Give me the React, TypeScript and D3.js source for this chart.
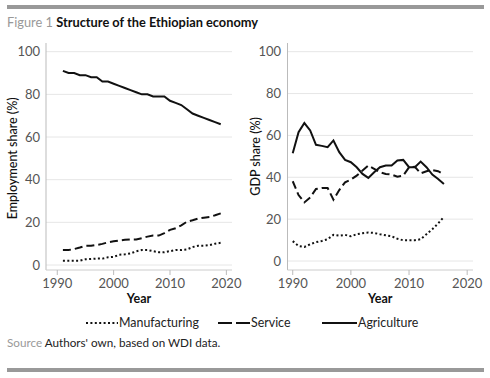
import React from "react";
import * as d3 from "d3";

const empYears = d3.range(1991, 2020);
const empAgriculture = [91, 90, 90, 89, 89, 88, 88, 86, 86, 85, 84, 83, 82, 81, 80, 80, 79, 79, 79, 77, 76, 75, 73, 71, 70, 69, 68, 67, 66];
const empService = [7, 7, 7.5, 8.2, 9, 9, 9.4, 9.9, 10.6, 11.1, 11.5, 11.8, 12, 12, 12.6, 13.3, 13.8, 13.8, 14.9, 16.5, 17.2, 18.6, 20.3, 21, 21.8, 22.2, 22.5, 23.3, 24.2];
const empManufacturing = [2, 2, 2, 2, 2.7, 2.8, 3, 3, 3.6, 3.8, 4.8, 5, 5.4, 6.4, 7, 7, 6.5, 6, 6, 6.5, 7, 7, 7.3, 8.4, 9, 9, 9.3, 10, 10.4];

const gdpYears = d3.range(1990, 2017);
const gdpAgriculture = [51.5, 61.5, 65.9, 62.4, 55.5, 55, 54.4, 57.6, 52, 48.3, 47.2, 44.8, 41.6, 39.7, 42.4, 44.8, 45.6, 45.6, 48, 48.3, 44.8, 44.8, 47.5, 44.8, 41.3, 39.2, 36.8];
const gdpService = [38.1, 31.5, 28, 30.4, 34.4, 34.9, 34.9, 29.3, 33.9, 37.6, 38.9, 40.8, 43.2, 45.6, 44, 42.4, 41.6, 41.3, 40.3, 40.8, 44.8, 45, 41.9, 42.9, 43.5, 42.9, 41.3];
const gdpManufacturing = [9.5, 7.2, 6.7, 8, 9, 9.6, 10.4, 12.5, 12.1, 12.5, 11.8, 12.8, 13.3, 13.6, 13.4, 12.8, 12.3, 11.8, 10.6, 9.9, 9.9, 9.9, 10.4, 12.8, 15.2, 17.9, 21.1];

const yTicks = [0, 20, 40, 60, 80, 100];
const xTicks = [1990, 2000, 2010, 2020];
const seriesNames = ["Manufacturing", "Service", "Agriculture"];
const dashes = ["2,2.4", "8,4", ""];

const FONT = "Lato, 'Noto Sans', sans-serif";

type PanelProps = {
  years: number[];
  series: number[][];
  xDomain: [number, number];
  xRange: [number, number];
  y0: number;
  y100: number;
  title: string;
  titleX: number;
  labelRight: number;
};

function Panel({ years, series, xDomain, xRange, y0, y100, title, titleX, labelRight }: PanelProps) {
  const x = d3.scaleLinear().domain(xDomain).range(xRange);
  const y = d3.scaleLinear().domain([0, 100]).range([y0, y100]);
  const axisY = 270;
  const line = (vals: number[]) =>
    d3
      .line<number>()
      .x((_, i) => x(years[i]))
      .y((v) => y(v))(vals) as string;
  const midY = (y0 + y100) / 2;
  return (
    <g>
      {yTicks.map((t) => (
        <g key={t}>
          <line x1={xRange[0]} x2={xRange[1]} y1={y(t)} y2={y(t)} stroke="#e6e6e6" strokeWidth={1} />
          <text x={labelRight} y={y(t)} dy="0.35em" textAnchor="end" fontSize={13} fill="#555" fontFamily={FONT}>
            {t}
          </text>
        </g>
      ))}
      <line x1={xRange[0]} x2={xRange[0]} y1={43} y2={axisY} stroke="#bbb" strokeWidth={1} />
      <line x1={xRange[0]} x2={xRange[1]} y1={axisY} y2={axisY} stroke="#ccc" strokeWidth={1} />
      {xTicks.map((t) => (
        <g key={t}>
          <line x1={x(t)} x2={x(t)} y1={axisY} y2={axisY + 5} stroke="#bbb" strokeWidth={1} />
          <text x={x(t)} y={288} textAnchor="middle" fontSize={13} fill="#555" fontFamily={FONT}>
            {t}
          </text>
        </g>
      ))}
      {series.map((vals, i) => (
        <path key={i} d={line(vals)} fill="none" stroke="#111" strokeWidth={2} strokeDasharray={dashes[i]} />
      ))}
      <text x={(xRange[0] + xRange[1]) / 2} y={303} textAnchor="middle" fontSize={12.5} fontWeight={700} fill="#111" fontFamily={FONT}>
        Year
      </text>
      <text
        transform={`translate(${titleX},${midY}) rotate(-90)`}
        textAnchor="middle"
        dy="0.35em"
        fontSize={12.5}
        fontWeight={500}
        fill="#111"
        fontFamily={FONT}
      >
        {title}
      </text>
    </g>
  );
}

export default function App() {
  const legendItems = [
    { x1: 86, x2: 118 },
    { x1: 218, x2: 250 },
    { x1: 322, x2: 357 },
  ];
  return (
    <svg width={490} height={378} style={{ position: "absolute", left: 0, top: 0 }}>
      <rect x={0} y={0} width={490} height={378} fill="#fff" />
      <rect x={7} y={5} width={477} height={4} fill="#999" />
      <text x={7} y={27} fontSize={12.8} fontFamily={FONT}>
        <tspan fill="#999">Figure 1 </tspan>
        <tspan fill="#111" fontWeight={700}>Structure of the Ethiopian economy</tspan>
      </text>
      <Panel
        years={empYears}
        series={[empManufacturing, empService, empAgriculture]}
        xDomain={[1988, 2021]}
        xRange={[46, 232]}
        y0={265}
        y100={51.7}
        title="Employment share (%)"
        titleX={13}
        labelRight={40}
      />
      <Panel
        years={gdpYears}
        series={[gdpManufacturing, gdpService, gdpAgriculture]}
        xDomain={[1989.1, 2021]}
        xRange={[287.5, 473]}
        y0={261}
        y100={51.7}
        title="GDP share (%)"
        titleX={256}
        labelRight={281}
      />
      {seriesNames.map((name, i) => (
        <g key={name}>
          <line
            x1={legendItems[i].x1}
            x2={legendItems[i].x2}
            y1={323}
            y2={323}
            stroke="#111"
            strokeWidth={2}
            strokeDasharray={i === 1 ? "14,4" : dashes[i]}
          />
          <text x={legendItems[i].x2 + 1} y={327} fontSize={12.4} fill="#222" fontFamily={FONT}>
            {name}
          </text>
        </g>
      ))}
      <text x={7} y={347} fontSize={11.7} fontFamily={FONT}>
        <tspan fill="#999">Source </tspan>
        <tspan fill="#222">Authors' own, based on WDI data.</tspan>
      </text>
      <rect x={7} y={368} width={477} height={4} fill="#999" />
    </svg>
  );
}
